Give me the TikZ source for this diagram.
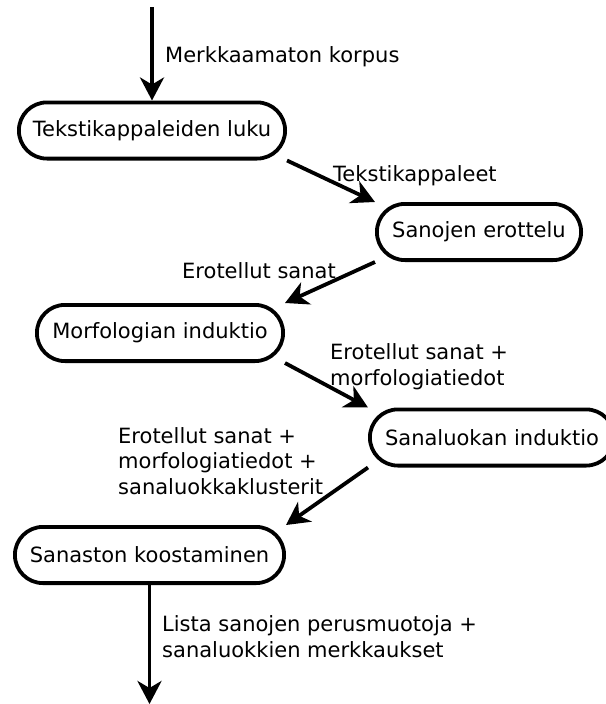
\documentclass[tikz,border=0pt]{standalone}
\usepackage{fontspec}
\setmainfont{DejaVu Sans}
\usetikzlibrary{arrows.meta}

\begin{document}
\begin{tikzpicture}[x=1pt, y=-1pt,
  every node/.style={font=\fontsize{21}{25.5}\selectfont},
  stage/.style={draw, line width=3.8pt, rectangle, rounded corners=28pt,
    minimum height=56.2pt, inner sep=0pt, align=center},
  flow/.style={line width=3.8pt, -{Stealth[length=23pt, width=24pt, inset=7pt]}},
  lbl/.style={anchor=base west, inner sep=0pt, align=left}]

  % canvas
  \path[fill=white, use as bounding box] (0,0) rectangle (605,704);

  % processing stages
  \node[stage, minimum width=266.2pt] (luku)   at (152,130.5) {Tekstikappaleiden luku};
  \node[stage, minimum width=204.2pt] (erott)  at (479,232)   {Sanojen erottelu};
  \node[stage, minimum width=246.2pt] (morf)   at (160,333)   {Morfologian induktio};
  \node[stage, minimum width=244.2pt] (sanal)  at (492,437.5) {Sanaluokan induktio};
  \node[stage, minimum width=269.2pt] (sanast) at (149.5,555) {Sanaston koostaminen};

  % free ends of the input and output arrows
  \coordinate (input)  at (152,7);
  \coordinate (output) at (149.5,704);

  % data flow
  \draw[flow] (input) -- (luku.north);
  \draw[flow] (luku.south east) -- (erott.north west);
  \draw[flow] (erott.south west) -- (morf.north east);
  \draw[flow] (morf.south east) -- (sanal.north west);
  \draw[flow] (sanal.south west) -- (sanast.north east);
  \draw[flow] (sanast.south) -- (output);

  % data labels (base anchor sits on the last line)
  \node[lbl] (l0) at (165,62)  {Merkkaamaton korpus};
  \node[lbl] (l1) at (333,181) {Tekstikappaleet};
  \node[lbl] (l2) at (182,278) {Erotellut sanat};
  \node[lbl] (l3) at (330,385) {Erotellut sanat +\\morfologiatiedot};
  \node[lbl] (l4) at (118,494) {Erotellut sanat +\\morfologiatiedot +\\sanaluokkaklusterit};
  \node[lbl] (l5) at (162,657) {Lista sanojen perusmuotoja +\\sanaluokkien merkkaukset};
\end{tikzpicture}
\end{document}
